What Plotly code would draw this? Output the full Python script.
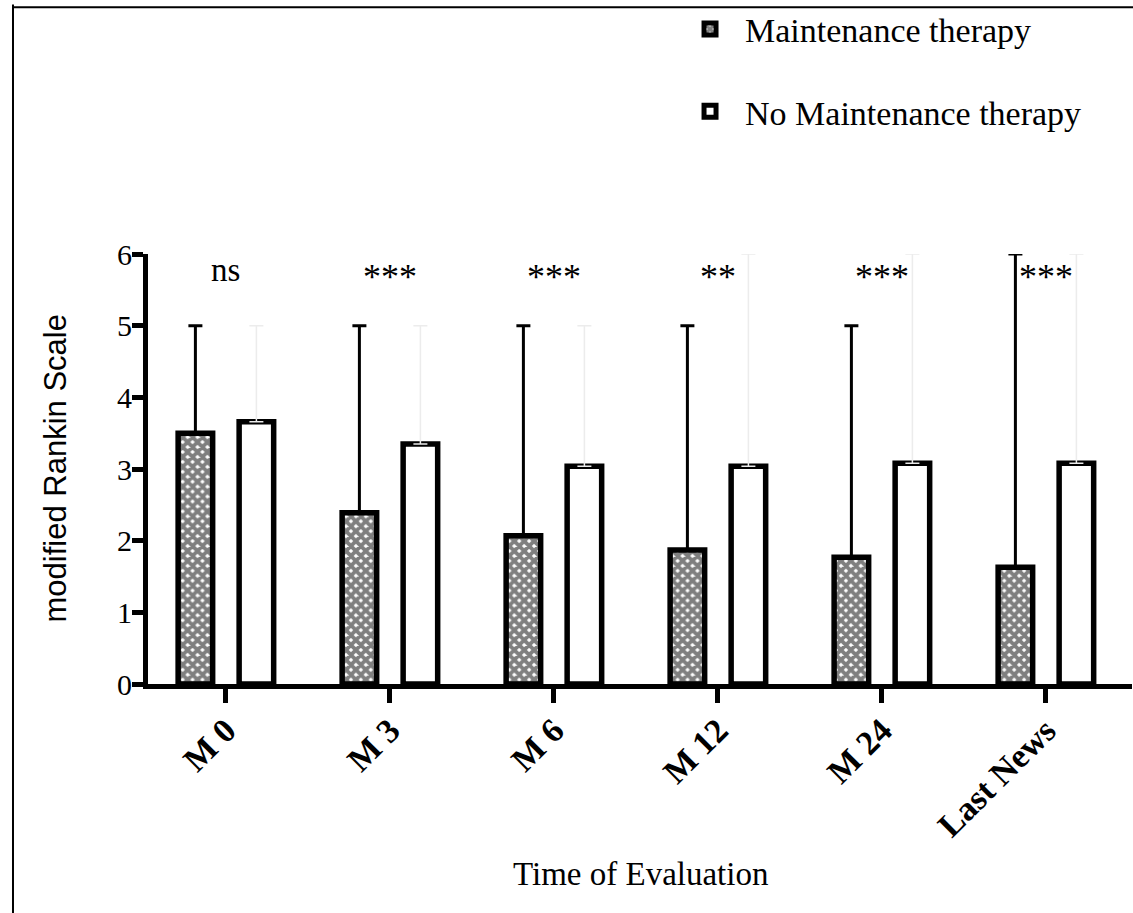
import plotly.graph_objects as go

categories = ["M 0", "M 3", "M 6", "M 12", "M 24", "Last News"]
maint_values = [3.5, 2.39, 2.07, 1.87, 1.77, 1.63]
maint_upper = [5, 5, 5, 5, 5, 6]
nomaint_values = [3.66, 3.35, 3.04, 3.04, 3.08, 3.08]
nomaint_upper = [5, 5, 5, 6, 6, 6]
significance = ["ns", "***", "***", "**", "***", "***"]

SERIF = "Liberation Serif, Times New Roman, serif"

fig = go.Figure()
fig.add_trace(go.Bar(
    x=categories, y=maint_values, name="Maintenance therapy",
    legendgroup="a",
    marker=dict(color="white", line=dict(color="black", width=5.5),
                pattern=dict(shape="x", fgcolor="black", bgcolor="white",
                             size=7, solidity=0.8)),
    error_y=dict(type="data", symmetric=False,
                 array=[u - v for u, v in zip(maint_upper, maint_values)],
                 arrayminus=[0] * len(maint_values),
                 color="black", thickness=3, width=7),
))
fig.add_trace(go.Bar(
    x=categories, y=nomaint_values, name="No Maintenance therapy",
    legendgroup="b",
    marker=dict(color="white", line=dict(color="black", width=5.5)),
    error_y=dict(type="data", symmetric=False,
                 array=[u - v for u, v in zip(nomaint_upper, nomaint_values)],
                 arrayminus=[0] * len(nomaint_values),
                 color="#ececec", thickness=1.5, width=7),
))

annotations = []
for c, s in zip(categories, significance):
    is_ns = s == "ns"
    annotations.append(dict(x=c, y=5.75, xref="x", yref="y", text=s,
                            showarrow=False,
                            font=dict(family=SERIF, size=33 if is_ns else 36,
                                      color="black"),
                            yshift=2 if is_ns else -5))
annotations.append(dict(x=0.5, y=-0.443, xref="paper", yref="paper",
                        text="Time of Evaluation", showarrow=False,
                        font=dict(family=SERIF, size=33, color="black"),
                        xanchor="center", yanchor="middle"))
annotations.append(dict(x=-0.095, y=0.5, xref="paper", yref="paper",
                        text="modified Rankin Scale", showarrow=False,
                        textangle=-90,
                        font=dict(family="Liberation Sans Narrow, Arial Narrow, Liberation Sans, Arial, sans-serif",
                                  size=31, color="black"),
                        xanchor="center", yanchor="middle"))

shapes = [
    dict(type="line", xref="paper", yref="paper", x0=-0.1372, x1=-0.1372,
         y0=1.58, y1=-0.54, line=dict(color="black", width=2)),
    dict(type="line", xref="paper", yref="paper", x0=-0.1372, x1=1.01,
         y0=1.5741, y1=1.5741, line=dict(color="black", width=2)),
]

fig.update_layout(
    width=1133, height=913, autosize=False,
    margin=dict(l=148, r=1, t=252, b=229),
    paper_bgcolor="white", plot_bgcolor="white",
    barmode="group", bargap=0.256, bargroupgap=0.434,
    font=dict(family=SERIF, color="black"),
    showlegend=True,
    legend=dict(x=0.5356, y=1.5896, xanchor="left", yanchor="top",
                font=dict(family=SERIF, size=34, color="black"),
                traceorder="grouped", tracegroupgap=35,
                itemwidth=60, bgcolor="rgba(0,0,0,0)"),
    annotations=annotations,
    shapes=shapes,
    xaxis=dict(range=[-0.475, 5.525], showline=True, linecolor="black",
               linewidth=5, ticks="outside", ticklen=14, tickwidth=5,
               tickcolor="black", tickangle=-45, ticklabelstandoff=-6,
               tickfont=dict(family=SERIF, size=34, color="black", weight="bold"),
               showgrid=False, zeroline=False, fixedrange=True),
    yaxis=dict(range=[0, 6], showline=True, linecolor="black", linewidth=5,
               ticks="outside", ticklen=11, tickwidth=5, tickcolor="black",
               ticklabelstandoff=-6,
               tickvals=[0, 1, 2, 3, 4, 5, 6],
               tickfont=dict(family=SERIF, size=30, color="black"),
               showgrid=False, zeroline=False, fixedrange=True),
)

fig.write_html("out.html", config={"displayModeBar": False},
               post_script="document.body.style.margin='0';document.body.style.overflow='hidden';")
